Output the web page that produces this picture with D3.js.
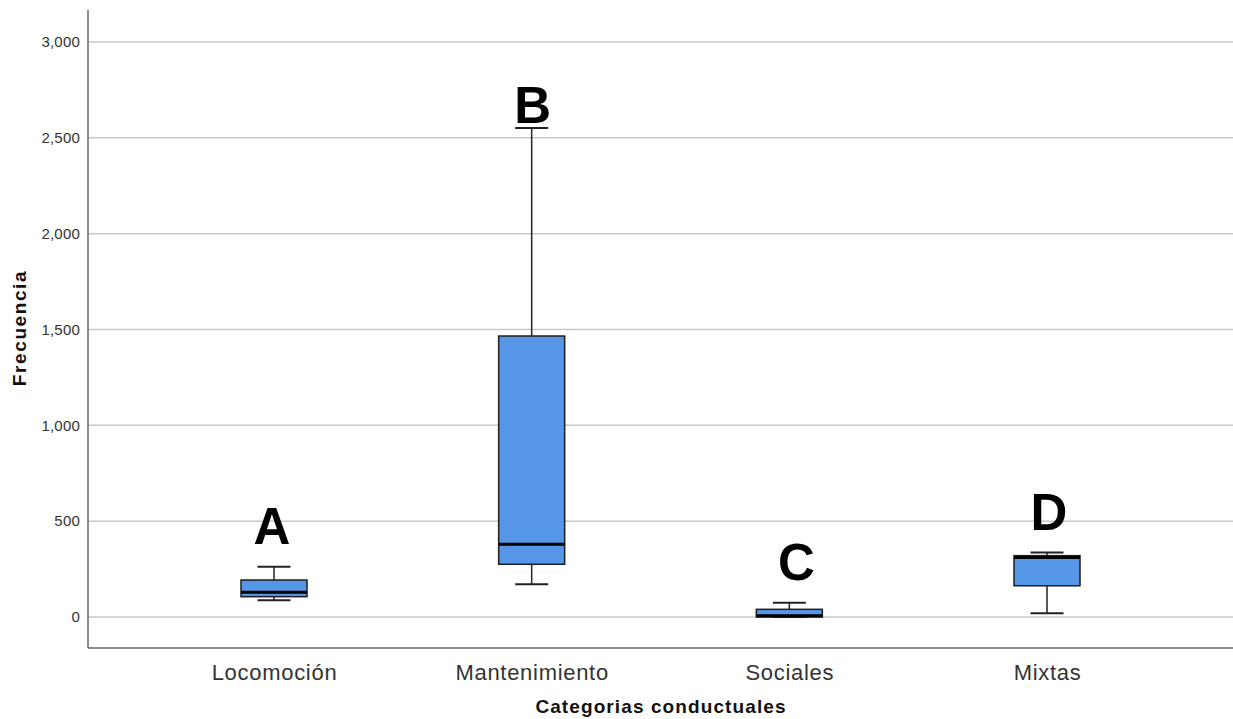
<!DOCTYPE html>
<html><head><meta charset="utf-8">
<script src="https://cdn.jsdelivr.net/npm/d3@7"></script>
<style>body{margin:0;background:#fff}svg{display:block}</style>
</head><body>
<script>
const categories = ["Locomoción","Mantenimiento","Sociales","Mixtas"];
const minVals    = [87, 171, 0, 19];
const q1Vals     = [106, 275, 0, 163];
const medVals    = [129, 379, 6, 311];
const q3Vals     = [193, 1466, 40, 320];
const maxVals    = [262, 2551, 75, 337];
const letters    = ["A","B","C","D"];
const letterVals = [381, 2577, 193, 454];
const yTicks     = [0, 500, 1000, 1500, 2000, 2500, 3000];

const W = 1233, H = 719;
const FONT = "Arial, Liberation Sans, sans-serif";
const letterDx = [-2, 1, 7, 2];
const svg = d3.select("body").append("svg").attr("width", W).attr("height", H);
const y = d3.scaleLinear().domain([0, 3000]).range([617, 42]);
const x = d3.scalePoint().domain(categories).range([274, 1047]);
const left = 88, bottom = 648;

// gridlines
svg.append("g").selectAll("line").data(yTicks).join("line")
  .attr("x1", left).attr("x2", W).attr("y1", d => y(d)).attr("y2", d => y(d))
  .attr("stroke", "#c8c8c8").attr("stroke-width", 1.5);

// y axis
const ya = svg.append("g").attr("transform", `translate(${left},0)`)
  .call(d3.axisLeft(y).tickValues(yTicks).tickFormat(d3.format(",")).tickSize(0).tickPadding(8));
ya.select(".domain").remove();
ya.selectAll("text").attr("font-family", FONT).attr("font-size", 15).attr("letter-spacing", 0.2).attr("fill", "#333");
svg.append("line").attr("x1", left).attr("x2", left).attr("y1", 10).attr("y2", bottom).attr("stroke", "#666").attr("stroke-width", 1.5);
svg.append("line").attr("x1", left).attr("x2", W).attr("y1", bottom).attr("y2", bottom).attr("stroke", "#666").attr("stroke-width", 1.5);

// x axis labels
const xa = svg.append("g").attr("transform", `translate(0,${bottom})`)
  .call(d3.axisBottom(x).tickSize(0).tickPadding(16));
xa.select(".domain").remove();
xa.selectAll("text").attr("font-family", FONT).attr("font-size", 22).attr("letter-spacing", 0.7).attr("fill", "#333");

svg.append("text").attr("x", 661).attr("y", 713).attr("text-anchor", "middle")
  .attr("font-family", FONT).attr("font-weight", "bold").attr("font-size", 19).attr("letter-spacing", 1.1)
  .attr("fill", "#111").text("Categorias conductuales");
svg.append("text").attr("transform", "translate(26,328) rotate(-90)").attr("text-anchor", "middle")
  .attr("font-family", FONT).attr("font-weight", "bold").attr("font-size", 19).attr("letter-spacing", 1.6)
  .attr("fill", "#111").text("Frecuencia");

const bw = 66, cw = 33;
const data = categories.map((c, i) => ({c, min: minVals[i], q1: q1Vals[i], med: medVals[i], q3: q3Vals[i], max: maxVals[i], l: letters[i], lv: letterVals[i], dx: letterDx[i]}));
const g = svg.append("g").selectAll("g").data(data).join("g").attr("transform", d => `translate(${x(d.c)},0)`);
g.append("line").attr("y1", d => y(d.max)).attr("y2", d => y(d.q3)).attr("stroke", "#222").attr("stroke-width", 1.5);
g.append("line").attr("y1", d => y(d.q1)).attr("y2", d => y(d.min)).attr("stroke", "#222").attr("stroke-width", 1.5);
g.append("line").attr("x1", -cw/2).attr("x2", cw/2).attr("y1", d => y(d.max)).attr("y2", d => y(d.max)).attr("stroke", "#222").attr("stroke-width", 2);
g.append("line").attr("x1", -cw/2).attr("x2", cw/2).attr("y1", d => y(d.min)).attr("y2", d => y(d.min)).attr("stroke", "#222").attr("stroke-width", 2);
g.append("rect").attr("x", -bw/2).attr("width", bw).attr("y", d => y(d.q3)).attr("height", d => Math.max(2, y(d.q1) - y(d.q3)))
  .attr("fill", "#5596e6").attr("stroke", "#1e1e1e").attr("stroke-width", 1.5);
g.append("line").attr("x1", -bw/2).attr("x2", bw/2).attr("y1", d => y(d.med)).attr("y2", d => y(d.med)).attr("stroke", "#000").attr("stroke-width", 3);
g.append("text").attr("x", d => d.dx).attr("y", d => y(d.lv)).attr("text-anchor", "middle")
  .attr("font-family", FONT).attr("font-weight", "bold").attr("font-size", 51)
  .attr("fill", "#000").text(d => d.l);
</script>
</body></html>
